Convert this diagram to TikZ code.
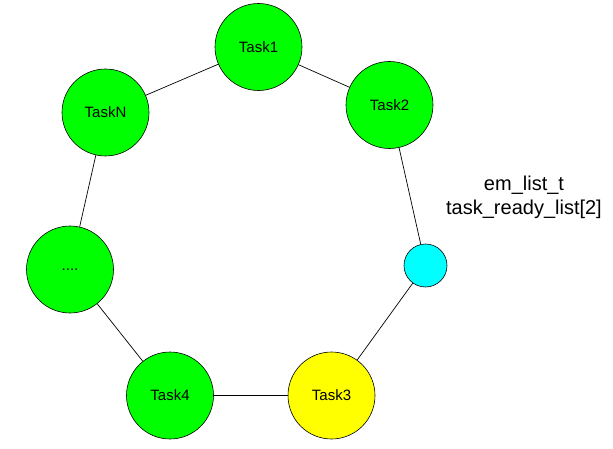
\documentclass[tikz,border=0pt]{standalone}
\usepackage{fontspec}
\setmainfont{Liberation Sans}
\definecolor{fgreen}{RGB}{0,255,0}
\definecolor{fyellow}{RGB}{255,255,0}
\definecolor{fcyan}{RGB}{0,255,255}
\begin{document}
\begin{tikzpicture}[x=1pt,y=-1pt,
  task/.style={circle,draw=black,line width=0.6pt,minimum size=87pt,inner sep=0pt,font=\fontsize{15}{18}\selectfont},
  link/.style={draw=black,line width=0.7pt}]
\useasboundingbox (0,0) rectangle (613,449);
\node[task,fill=fgreen] (t1) at (258.5,47) {Task1};
\node[task,fill=fgreen] (t2) at (389.5,105) {Task2};
\node[task,fill=fgreen] (tn) at (105.5,112.5) {TaskN};
\node[task,fill=fgreen] (td) at (70,269.5) {....};
\node[task,fill=fgreen] (t4) at (170,395.5) {Task4};
\node[task,fill=fyellow] (t3) at (331.5,395.5) {Task3};
\node[circle,draw=black,line width=0.6pt,fill=fcyan,minimum size=43pt,inner sep=0pt] (h) at (425.5,265.5) {};
\node[align=center,font=\fontsize{20}{24}\selectfont] (lbl) at (524,197) {em\_list\_t\\task\_ready\_list[2]};
\draw[link] (t1) -- (t2);
\draw[link] (t1) -- (tn);
\draw[link] (tn) -- (td);
\draw[link] (td) -- (t4);
\draw[link] (t4) -- (t3);
\draw[link] (t3) -- (h);
\draw[link] (h) -- (t2);
\end{tikzpicture}
\end{document}
